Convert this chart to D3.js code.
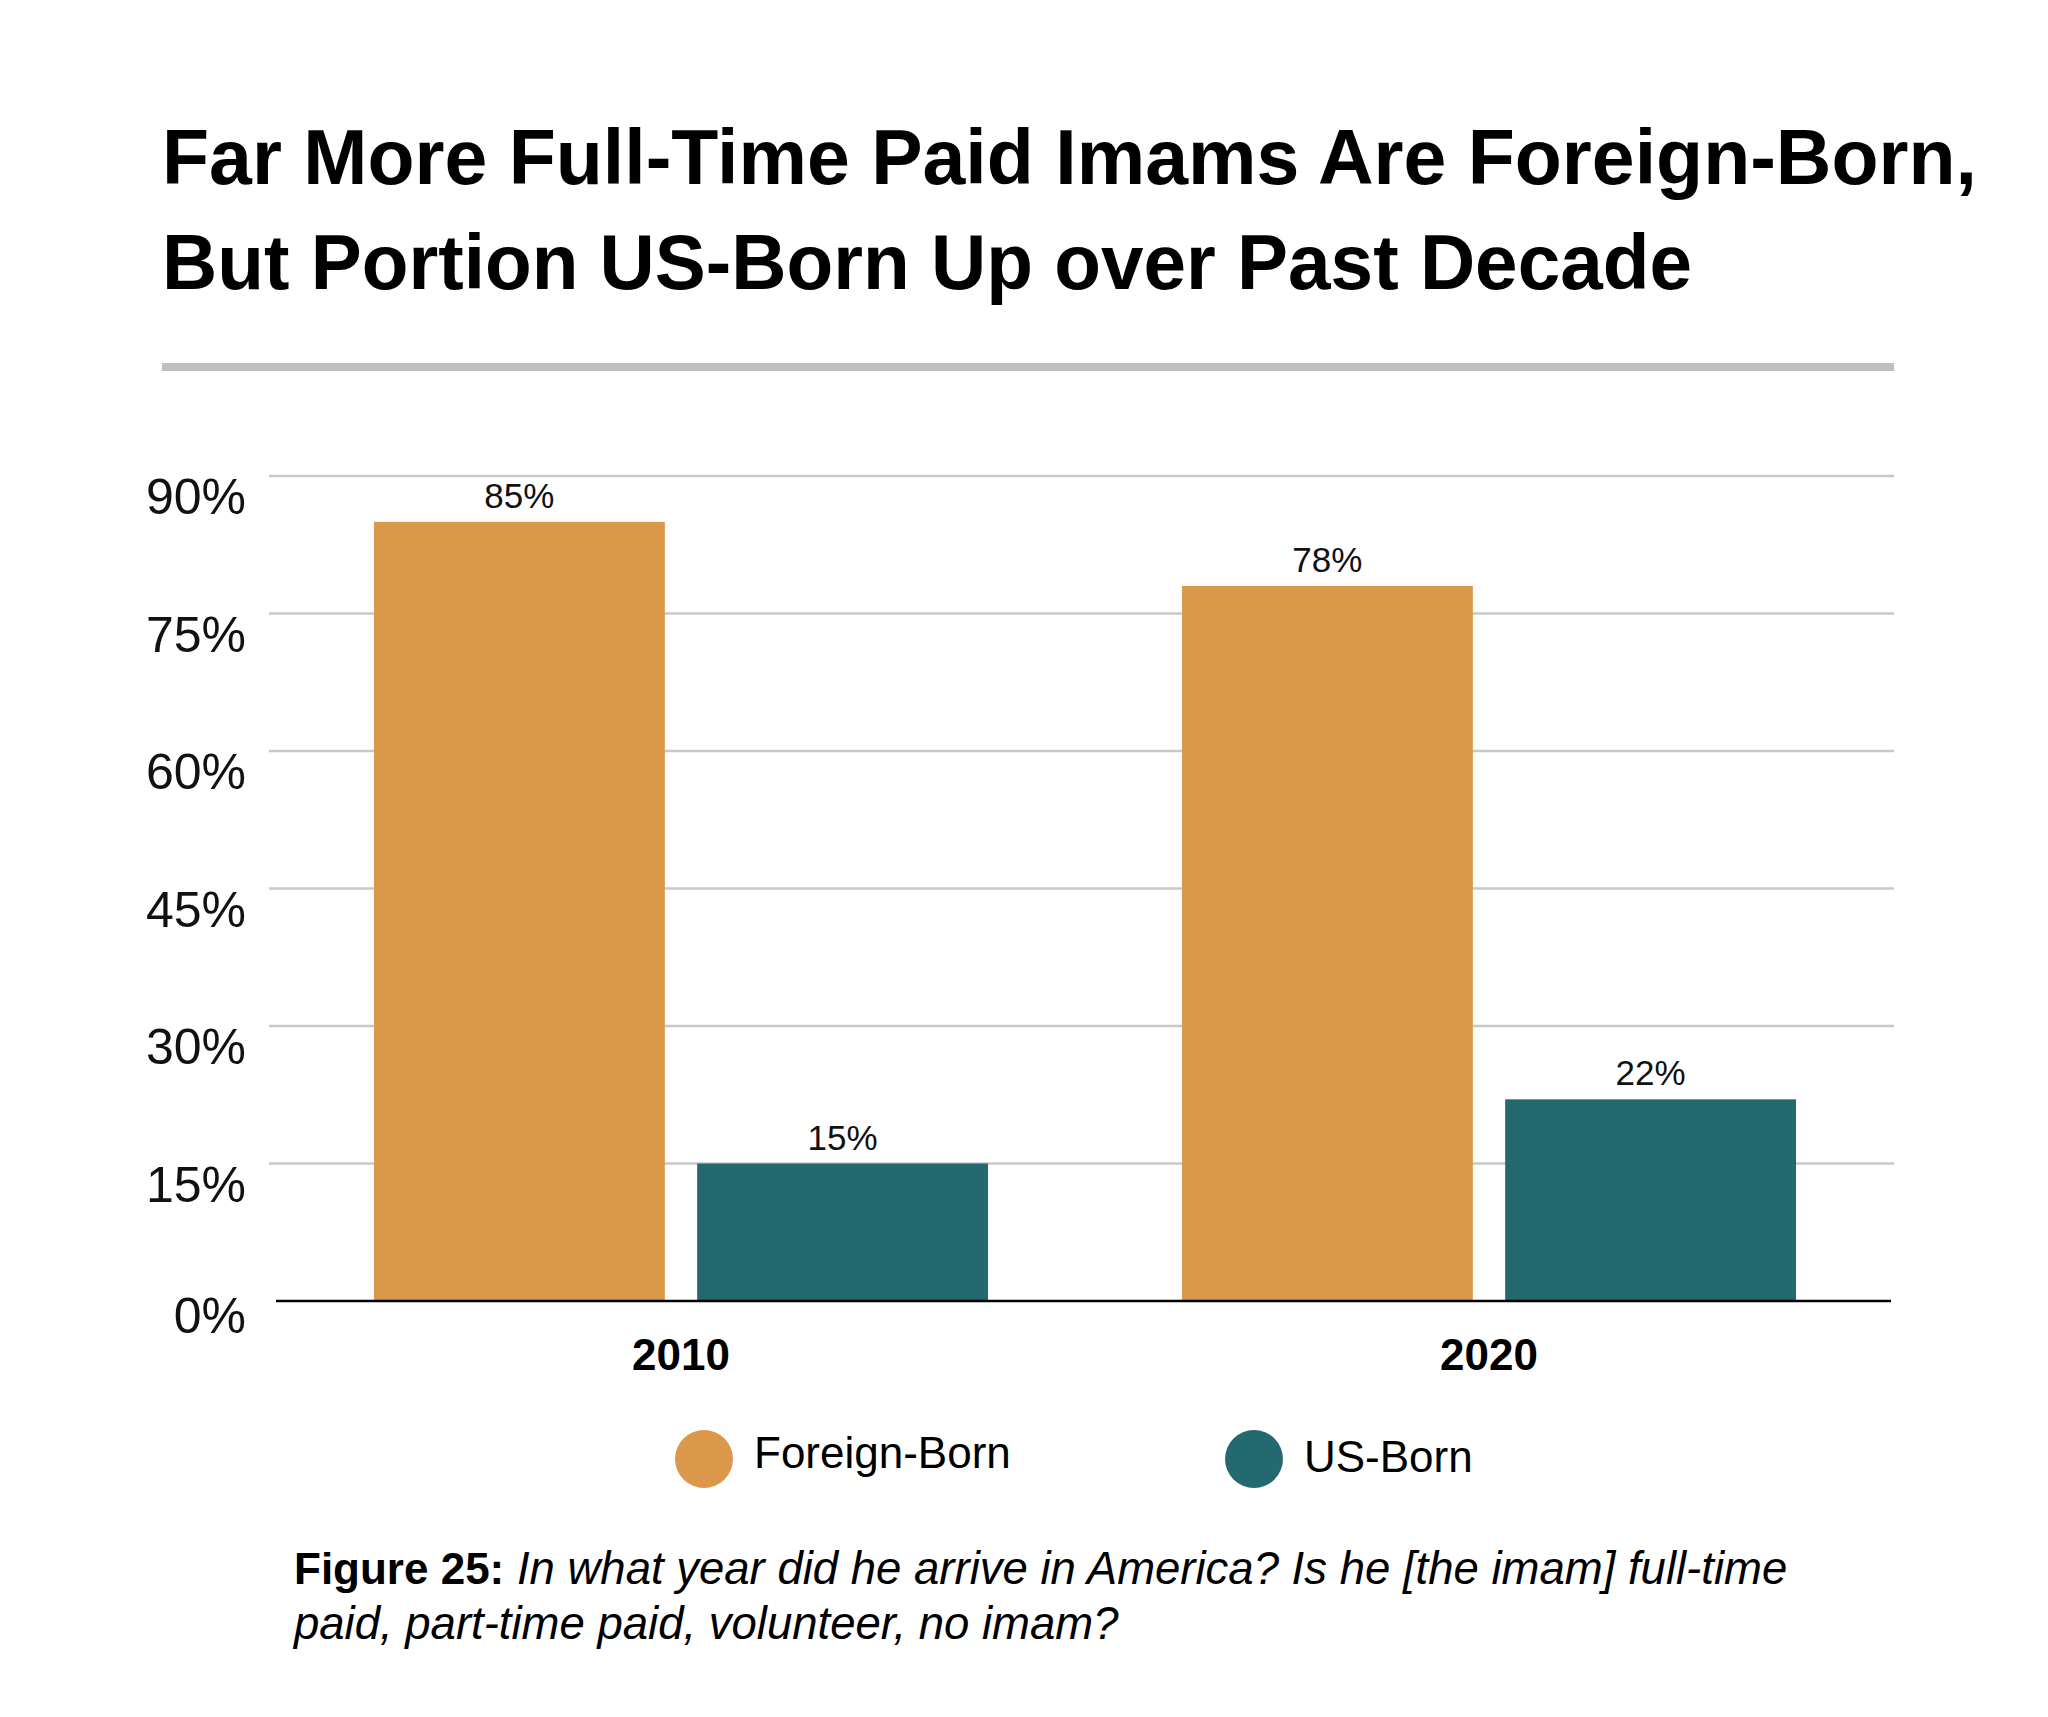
<!DOCTYPE html>
<html>
<head>
  <meta charset="UTF-8">
  <style>
      body{ margin: 0; background: #fff; }
      svg{ display: block; }
  </style>
</head>
<body>
<svg></svg>
<script src="https://d3js.org/d3.v7.min.js"></script>

<script>

let width = 2048, height = 1717;

// data
let years = ["2010", "2020"];
let series = ["Foreign-Born", "US-Born"];
let foreignBorn = [85, 78];
let usBorn = [15, 22];
let yTicks = [0, 15, 30, 45, 60, 75, 90];

let titleLines = ["Far More Full-Time Paid Imams Are Foreign-Born,",
                  "But Portion US-Born Up over Past Decade"];
let titleWidths = [1815, 1530];
let captionBold = "Figure 25:";
let captionLines = [" In what year did he arrive in America? Is he [the imam] full-time",
                    "paid, part-time paid, volunteer, no imam?"];

let rows = years.map((y, i) => ({year: y, values: [foreignBorn[i], usBorn[i]]}));

let svg = d3.select("svg")
    .attr("width", width)
    .attr("height", height)
    .attr("viewBox", "0 0 " + width + " " + height);

let colorScale = d3.scaleOrdinal()
    .domain(series)
    .range(["#db974a", "#256970"]);

let x0 = d3.scaleBand()
    .domain(years)
    .range([277, 1893])
    .paddingInner(0.24)
    .paddingOuter(0.12);

let x1 = d3.scaleBand()
    .domain(series)
    .range([0, x0.bandwidth()])
    .paddingInner(0.1);

let y = d3.scaleLinear()
    .domain([0, 90])
    .range([1301, 476]);

// title, squeezed to look condensed
svg.append("g")
    .selectAll("text")
    .data(titleLines)
    .enter()
    .append("text")
    .attr("x", 162)
    .attr("y", (d, i) => 184 + i * 105)
    .attr("textLength", (d, i) => titleWidths[i])
    .attr("lengthAdjust", "spacingAndGlyphs")
    .style("font-family", "'Liberation Sans', Arial, sans-serif")
    .style("font-weight", "bold")
    .style("font-size", "78px")
    .style("fill", "#000")
    .text(d => d);

svg.append("rect")
    .attr("x", 162)
    .attr("y", 363)
    .attr("width", 1732)
    .attr("height", 8)
    .style("fill", "#bfbfbf");

// gridlines
svg.append("g")
    .attr("id", "grid")
    .selectAll("line")
    .data(yTicks.filter(d => d > 0))
    .enter()
    .append("line")
    .attr("x1", 269)
    .attr("x2", 1894)
    .attr("y1", d => y(d))
    .attr("y2", d => y(d))
    .style("stroke", "#c8c8c8")
    .style("stroke-width", "2.5px");

// y tick labels
svg.append("g")
    .selectAll("text")
    .data(yTicks)
    .enter()
    .append("text")
    .attr("x", 246)
    .attr("y", d => y(d) + (d === 0 ? 32 : 38))
    .attr("text-anchor", "end")
    .style("font-family", "'Liberation Sans', Arial, sans-serif")
    .style("font-size", "50px")
    .style("fill", "#111")
    .text(d => d + "%");

// bars
let groups = svg.append("g")
    .selectAll("g")
    .data(rows)
    .enter()
    .append("g")
    .attr("transform", d => "translate(" + x0(d.year) + ",0)");

groups.selectAll("rect")
    .data(d => d.values.map((v, i) => ({key: series[i], value: v})))
    .enter()
    .append("rect")
    .attr("x", d => x1(d.key))
    .attr("y", d => y(d.value))
    .attr("width", x1.bandwidth())
    .attr("height", d => y(0) - y(d.value))
    .style("fill", d => colorScale(d.key));

groups.selectAll("text")
    .data(d => d.values.map((v, i) => ({key: series[i], value: v})))
    .enter()
    .append("text")
    .attr("x", d => x1(d.key) + x1.bandwidth() / 2)
    .attr("y", d => y(d.value) - 14)
    .attr("text-anchor", "middle")
    .style("font-family", "'Liberation Sans', Arial, sans-serif")
    .style("font-size", "35px")
    .style("fill", "#111")
    .text(d => d.value + "%");

// baseline
svg.append("line")
    .attr("x1", 276)
    .attr("x2", 1891)
    .attr("y1", y(0))
    .attr("y2", y(0))
    .style("stroke", "#000")
    .style("stroke-width", "2.5px");

// year labels
svg.append("g")
    .selectAll("text")
    .data(years)
    .enter()
    .append("text")
    .attr("x", d => x0(d) + x0.bandwidth() / 2)
    .attr("y", 1370)
    .attr("text-anchor", "middle")
    .style("font-family", "'Liberation Sans', Arial, sans-serif")
    .style("font-weight", "bold")
    .style("font-size", "44px")
    .style("fill", "#000")
    .text(d => d);

// legend
let legend = svg.append("g")
    .selectAll("g")
    .data(series)
    .enter()
    .append("g")
    .attr("transform", (d, i) => "translate(" + (704 + i * 550) + ",1459)");

legend.append("circle")
    .attr("r", 29)
    .style("fill", d => colorScale(d));

legend.append("text")
    .attr("x", 50)
    .attr("y", (d, i) => 9 + i * 4)
    .style("font-family", "'Liberation Sans', Arial, sans-serif")
    .style("font-size", "44px")
    .style("fill", "#000")
    .text(d => d);

// caption
let caption = svg.append("text")
    .attr("x", 294)
    .attr("y", 1584)
    .style("font-family", "'Liberation Sans', Arial, sans-serif")
    .style("fill", "#000");

caption.append("tspan")
    .style("font-weight", "bold")
    .style("font-size", "44px")
    .text(captionBold);

caption.append("tspan")
    .style("font-style", "italic")
    .style("font-size", "45.5px")
    .text(captionLines[0]);

svg.append("text")
    .attr("x", 294)
    .attr("y", 1639)
    .style("font-family", "'Liberation Sans', Arial, sans-serif")
    .style("font-size", "45.5px")
    .style("font-style", "italic")
    .style("fill", "#000")
    .text(captionLines[1]);

</script>

</body>
</html>
